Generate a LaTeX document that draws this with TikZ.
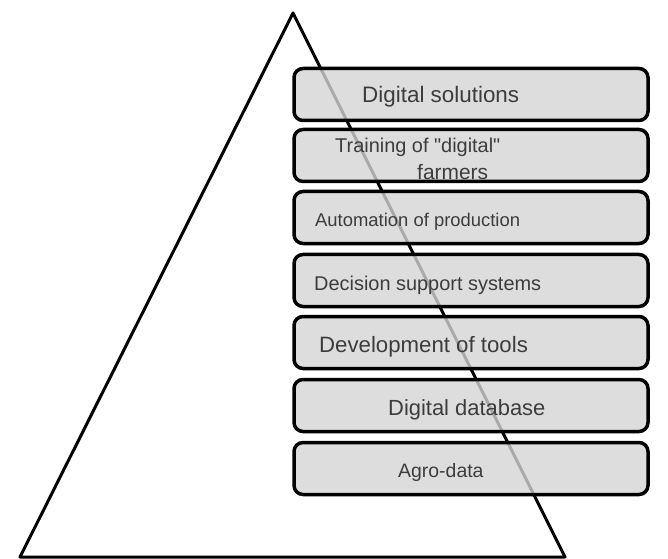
\documentclass[tikz,border=0pt]{standalone}
\usepackage{fontspec}
\setmainfont{Liberation Sans}[Ligatures=TeXOff]
\definecolor{boxgray}{HTML}{D5D5D5}
\definecolor{labelgray}{HTML}{3C3C3C}
\tikzset{
  layer/.style={draw, line width=3.5bp, rounded corners=9bp, fill=boxgray,
    fill opacity=0.8, minimum width=354bp, minimum height=52bp, inner sep=0pt},
  caption/.style={anchor=west, inner sep=0pt, text=labelgray}
}
\begin{document}
\begin{tikzpicture}[x=1bp,y=-1bp]
\useasboundingbox (0,0) rectangle (668,559);

\coordinate (apex) at (293,13);
\coordinate (baseL) at (20,557);
\coordinate (baseR) at (565,557);
\path[draw,line width=3bp,line join=round] (apex) -- (baseL) -- (baseR) -- cycle;

\node[layer] (solutions) at (471,94.5) {};
\node[layer] (training) at (471,155.5) {};
\node[layer] (automation) at (471,217.5) {};
\node[layer] (decision) at (471,280.5) {};
\node[layer] (tools) at (471,342.5) {};
\node[layer] (database) at (471,405.5) {};
\node[layer] (agrodata) at (471,468.5) {};

\node[caption,font=\fontsize{22.5}{24}\selectfont] (solutionsText) at (362,97) {Digital solutions};
\node[caption,font=\fontsize{20}{22}\selectfont] (trainingText) at (335,147) {Training of "digital"};
\node[caption,font=\fontsize{21}{22}\selectfont] (farmersText) at (417,172) {farmers};
\node[caption,font=\fontsize{18.5}{20}\selectfont] (automationText) at (315,222) {Automation of production};
\node[caption,font=\fontsize{20}{22}\selectfont] (decisionText) at (314,285) {Decision support systems};
\node[caption,font=\fontsize{22.3}{24}\selectfont] (toolsText) at (319,347) {Development of tools};
\node[caption,font=\fontsize{22}{24}\selectfont] (databaseText) at (388,410) {Digital database};
\node[caption,font=\fontsize{19.5}{21}\selectfont] (agrodataText) at (398,472) {Agro-data};
\end{tikzpicture}
\end{document}
